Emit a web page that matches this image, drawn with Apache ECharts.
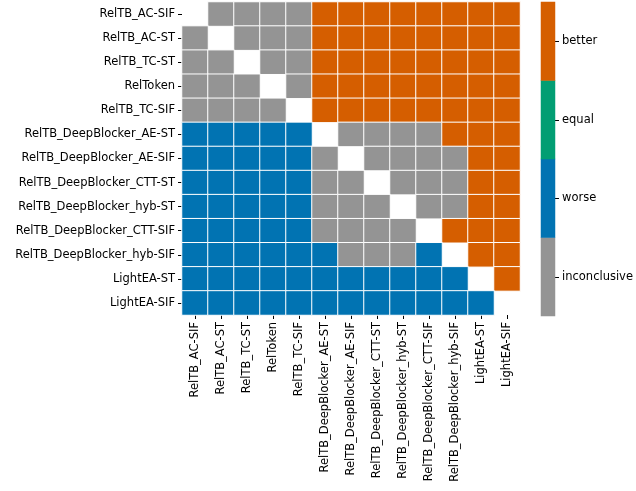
<!DOCTYPE html>
<html>
<head>
<meta charset="utf-8">
<script src="https://cdn.jsdelivr.net/npm/echarts@6/dist/echarts.min.js"></script>
<style>html,body{margin:0;padding:0;background:#fff}#c{width:636px;height:491px}</style>
</head>
<body>
<div id="c"></div>
<script>
const methods = ['RelTB_AC-SIF','RelTB_AC-ST','RelTB_TC-ST','RelToken','RelTB_TC-SIF',
  'RelTB_DeepBlocker_AE-ST','RelTB_DeepBlocker_AE-SIF','RelTB_DeepBlocker_CTT-ST',
  'RelTB_DeepBlocker_hyb-ST','RelTB_DeepBlocker_CTT-SIF','RelTB_DeepBlocker_hyb-SIF',
  'LightEA-ST','LightEA-SIF'];
// outcome categories (colorbar, bottom to top)
const outcomes = ['inconclusive','worse','equal','better'];
const outcomeColors = ['#949494','#0173b2','#029e73','#d55e00'];
// matrix rows (I = inconclusive, W = worse, E = equal, B = better, '.' = diagonal / empty)
const rows = [
  '.IIIIBBBBBBBB',
  'I.IIIBBBBBBBB',
  'II.IIBBBBBBBB',
  'III.IBBBBBBBB',
  'IIII.BBBBBBBB',
  'WWWWW.IIIIBBB',
  'WWWWWI.IIIIBB',
  'WWWWWII.IIIBB',
  'WWWWWIII.IIBB',
  'WWWWWIIII.BBB',
  'WWWWWWIIIW.BB',
  'WWWWWWWWWWW.B',
  'WWWWWWWWWWWW.'
];
const codeMap = {I:0, W:1, E:2, B:3};

const data = [];
rows.forEach((r, i) => {
  for (let j = 0; j < r.length; j++) {
    const ch = r[j];
    if (ch === '.') continue;
    data.push([j, i, codeMap[ch]]);
  }
});
const cbData = outcomes.map((o, k) => [0, k, k]);

const font = 'DejaVu Sans';
const fs = 11.5;
const chart = echarts.init(document.getElementById('c'), null, {renderer: 'canvas'});
chart.setOption({
  animation: false,
  backgroundColor: '#fff',
  grid: [
    {left: 182, right: 116, top: 2, bottom: 176},
    {left: 541, width: 16, top: 2, height: 314}
  ],
  xAxis: [
    {type: 'category', gridIndex: 0, data: methods, position: 'bottom',
     axisLine: {show: false}, splitLine: {show: false},
     axisTick: {show: true, alignWithLabel: true, length: 4, lineStyle: {color: '#000'}},
     axisLabel: {rotate: 90, interval: 0, color: '#000', fontFamily: font, fontSize: fs, margin: 7}},
    {type: 'category', gridIndex: 1, data: ['x'], show: false}
  ],
  yAxis: [
    {type: 'category', gridIndex: 0, data: methods, inverse: true,
     axisLine: {show: false}, splitLine: {show: false},
     axisTick: {show: true, alignWithLabel: true, length: 4, lineStyle: {color: '#000'}},
     axisLabel: {interval: 0, color: '#000', fontFamily: font, fontSize: fs, margin: 7}},
    {type: 'category', gridIndex: 1, data: outcomes, position: 'right',
     axisLine: {show: false}, splitLine: {show: false},
     axisTick: {show: true, alignWithLabel: true, length: 4, lineStyle: {color: '#000'}},
     axisLabel: {interval: 0, color: '#000', fontFamily: font, fontSize: fs, margin: 7}}
  ],
  visualMap: {
    type: 'piecewise', show: false, dimension: 2, seriesIndex: [0, 1],
    pieces: outcomes.map((o, k) => ({value: k, color: outcomeColors[k]}))
  },
  series: [
    {type: 'heatmap', xAxisIndex: 0, yAxisIndex: 0, data: data,
     itemStyle: {borderColor: '#fff', borderWidth: 1}},
    {type: 'heatmap', xAxisIndex: 1, yAxisIndex: 1, data: cbData,
     itemStyle: {borderWidth: 0}}
  ]
});
</script>
</body>
</html>
